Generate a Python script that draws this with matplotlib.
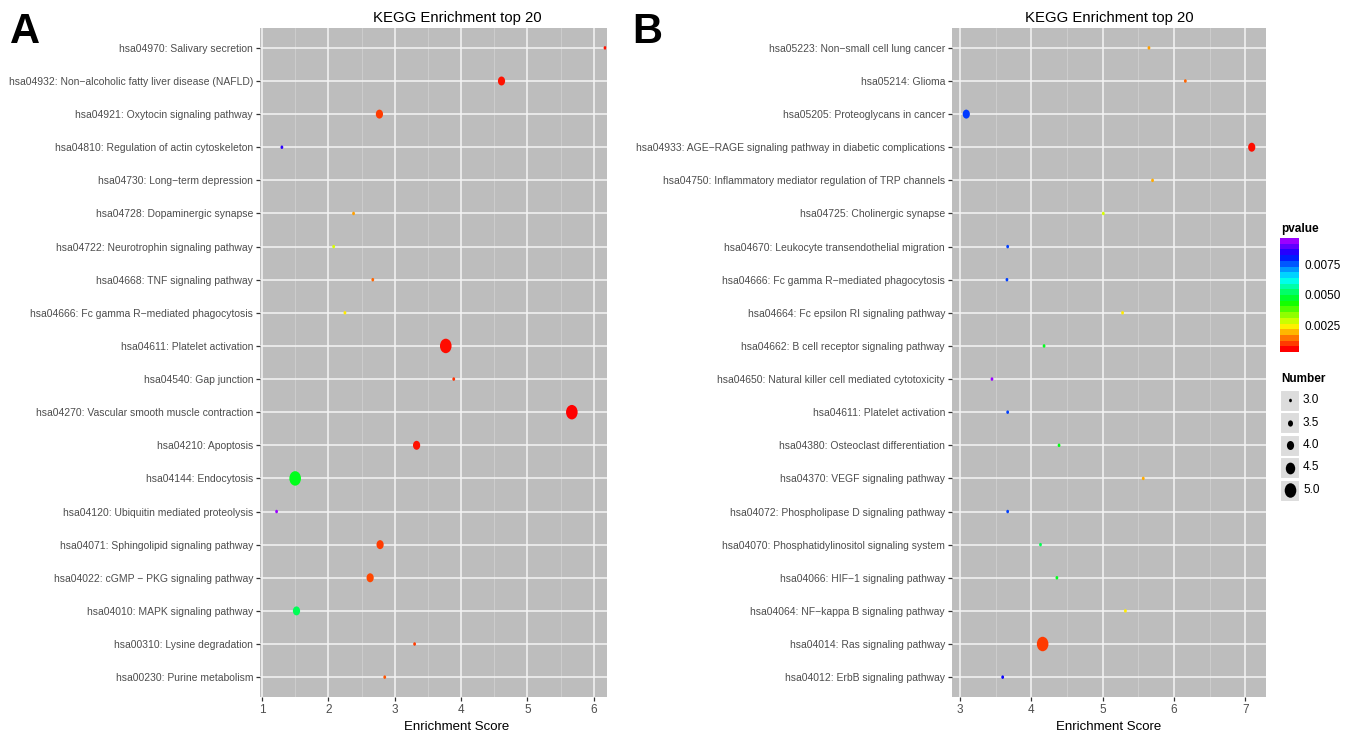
import numpy as np
import matplotlib
matplotlib.use('Agg')
import matplotlib.pyplot as plt
from matplotlib.colors import ListedColormap, Normalize
from matplotlib.cm import ScalarMappable
from matplotlib.markers import MarkerStyle
from matplotlib.path import Path
from matplotlib.transforms import Affine2D

# ---- data (top row first) ----
terms_a = [
    "hsa04970: Salivary secretion",
    "hsa04932: Non\u2212alcoholic fatty liver disease (NAFLD)",
    "hsa04921: Oxytocin signaling pathway",
    "hsa04810: Regulation of actin cytoskeleton",
    "hsa04730: Long\u2212term depression",
    "hsa04728: Dopaminergic synapse",
    "hsa04722: Neurotrophin signaling pathway",
    "hsa04668: TNF signaling pathway",
    "hsa04666: Fc gamma R\u2212mediated phagocytosis",
    "hsa04611: Platelet activation",
    "hsa04540: Gap junction",
    "hsa04270: Vascular smooth muscle contraction",
    "hsa04210: Apoptosis",
    "hsa04144: Endocytosis",
    "hsa04120: Ubiquitin mediated proteolysis",
    "hsa04071: Sphingolipid signaling pathway",
    "hsa04022: cGMP \u2212 PKG signaling pathway",
    "hsa04010: MAPK signaling pathway",
    "hsa00310: Lysine degradation",
    "hsa00230: Purine metabolism",
]
score_a = [6.17, 4.61, 2.77, 1.30, 6.63, 2.38, 2.08, 2.67, 2.25, 3.77,
           3.89, 5.67, 3.33, 1.50, 1.22, 2.78, 2.63, 1.52, 3.30, 2.85]
pval_a = [0.0005, 0.0005, 0.0008, 0.0088, 0.0010, 0.0016, 0.0027, 0.0011, 0.0022, 0.0004,
          0.0007, 0.0003, 0.0005, 0.0046, 0.0097, 0.0008, 0.0009, 0.0051, 0.0008, 0.0010]
number_a = [3, 4, 4, 3, 3, 3, 3, 3, 3, 5, 3, 5, 4, 5, 3, 4, 4, 4, 3, 3]

terms_b = [
    "hsa05223: Non\u2212small cell lung cancer",
    "hsa05214: Glioma",
    "hsa05205: Proteoglycans in cancer",
    "hsa04933: AGE\u2212RAGE signaling pathway in diabetic complications",
    "hsa04750: Inflammatory mediator regulation of TRP channels",
    "hsa04725: Cholinergic synapse",
    "hsa04670: Leukocyte transendothelial migration",
    "hsa04666: Fc gamma R\u2212mediated phagocytosis",
    "hsa04664: Fc epsilon RI signaling pathway",
    "hsa04662: B cell receptor signaling pathway",
    "hsa04650: Natural killer cell mediated cytotoxicity",
    "hsa04611: Platelet activation",
    "hsa04380: Osteoclast differentiation",
    "hsa04370: VEGF signaling pathway",
    "hsa04072: Phospholipase D signaling pathway",
    "hsa04070: Phosphatidylinositol signaling system",
    "hsa04066: HIF\u22121 signaling pathway",
    "hsa04064: NF\u2212kappa B signaling pathway",
    "hsa04014: Ras signaling pathway",
    "hsa04012: ErbB signaling pathway",
]
score_b = [5.65, 6.16, 3.09, 7.09, 5.70, 5.01, 3.67, 3.66, 5.28, 4.18,
           3.45, 3.67, 4.39, 5.57, 3.67, 4.13, 4.36, 5.32, 4.16, 3.60]
pval_b = [0.0016, 0.0011, 0.0080, 0.0004, 0.0017, 0.0027, 0.0079, 0.0079, 0.0022, 0.0046,
          0.0097, 0.0079, 0.0045, 0.0017, 0.0079, 0.0050, 0.0046, 0.0022, 0.0008, 0.0085]
number_b = [3, 3, 4, 4, 3, 3, 3, 3, 3, 3, 3, 3, 3, 3, 3, 3, 3, 3, 5, 3]

number_levels = [3.0, 3.5, 4.0, 4.5, 5.0]
pval_ticks = [0.0025, 0.0050, 0.0075]

# ---- style ----
plt.rcParams['font.family'] = ['Liberation Sans', 'DejaVu Sans']

cmap = ListedColormap(plt.cm.hsv(np.linspace(0, 0.78, 256)))
norm = Normalize(vmin=0.00028, vmax=0.0097)
panel_bg = '#bdbdbd'

# slightly tall ellipse like the reference dots
ell = MarkerStyle(Path.unit_circle().transformed(Affine2D().scale(0.8, 1.0)))


def size_of(n):
    d_px = 3.5 + (np.asarray(n, dtype=float) - 3) / 2 * 11
    return (d_px * 72 / 100) ** 2


W, H = 1349, 736
fig = plt.figure(figsize=(W / 100, H / 100), dpi=100)


def panel(rect, terms, score, pval, number, xlim, xticks, title_x):
    ax = fig.add_axes(rect)
    ax.set_facecolor(panel_bg)
    y = np.arange(len(terms))[::-1]
    ax.scatter(score, y, s=size_of(number), c=pval, cmap=cmap, norm=norm,
               marker=ell, linewidths=0, zorder=3)
    ax.set_yticks(y)
    ax.set_yticklabels(terms, fontsize=7.5, color='#4d4d4d')
    ax.set_xticks(xticks)
    ax.set_xticklabels([str(t) for t in xticks], fontsize=8.5, color='#4d4d4d')
    ax.set_xticks(np.arange(xticks[0] - 0.5, xticks[-1] + 1, 1), minor=True)
    ax.set_xlim(*xlim)
    ax.set_ylim(-0.6, len(terms) - 0.4)
    ax.grid(which='major', color='#f4f4f4', lw=1.1, zorder=0)
    ax.grid(which='minor', axis='x', color='#cfcfcf', lw=0.6, zorder=0)
    ax.tick_params(which='major', length=3, width=0.9, color='#333333', pad=2)
    ax.tick_params(which='minor', length=0)
    for s in ax.spines.values():
        s.set_visible(False)
    ax.set_axisbelow(True)
    ax.set_title('KEGG Enrichment top 20', fontsize=10.7, x=title_x, pad=4)
    ax.set_xlabel('Enrichment Score', fontsize=9.5)
    ax.xaxis.set_label_coords(title_x, -0.036)
    return ax


axA = panel([260 / W, 1 - 697 / H, 347 / W, 669 / H], terms_a, score_a, pval_a, number_a,
            (0.97, 6.2), [1, 2, 3, 4, 5, 6], 0.568)
axB = panel([952 / W, 1 - 697 / H, 314 / W, 669 / H], terms_b, score_b, pval_b, number_b,
            (2.89, 7.29), [3, 4, 5, 6, 7], 0.5)

fig.text(10 / W, 1 - 43 / H, 'A', fontsize=30, fontweight='bold')
fig.text(632 / W, 1 - 43 / H, 'B', fontsize=30, fontweight='bold')

# ---- pvalue colour bar ----
cax = fig.add_axes([1280 / W, 1 - 352 / H, 19 / W, 114 / H])
cb = fig.colorbar(ScalarMappable(norm=norm, cmap=cmap.resampled(20)), cax=cax)
cb.set_ticks(pval_ticks)
cb.set_ticklabels(['%.4f' % v for v in pval_ticks])
cb.outline.set_visible(False)
cax.tick_params(length=0, labelsize=8.5, pad=4)
fig.text(1281 / W, 1 - 229 / H, 'pvalue', fontsize=8.5, fontweight='bold', va='center')

# ---- Number size legend ----
fig.text(1281 / W, 1 - 379 / H, 'Number', fontsize=8.5, fontweight='bold', va='center')
lax = fig.add_axes([1280 / W, 1 - 502 / H, 60 / W, 114 / H])
lax.set_xlim(0, 60)
lax.set_ylim(114, 0)
lax.axis('off')
for i, n in enumerate(number_levels):
    yc = 12 + 22.5 * i
    lax.add_patch(plt.Rectangle((0, yc - 10.5), 19, 21, facecolor='#dcdcdc', edgecolor='white', lw=0.8))
    lax.scatter([9.5], [yc], s=size_of(n), c='black', marker=ell, linewidths=0)
    lax.text(23, yc, '%.1f' % n, fontsize=8.5, va='center')

fig.savefig('out.png', dpi=100)
